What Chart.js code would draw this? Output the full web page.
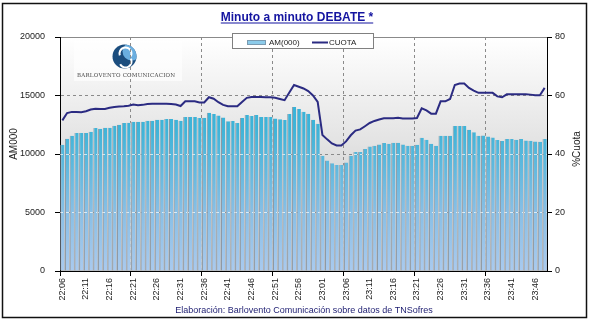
<!DOCTYPE html>
<html>
<head>
<meta charset="utf-8">
<script src="https://cdn.jsdelivr.net/npm/chart.js@4.4.0/dist/chart.umd.min.js"></script>
<style>
  body { margin: 0; background: #fff; }
  canvas { display: block; }
</style>
</head>
<body>
<canvas id="minuto" width="592" height="323"></canvas>
<script>
const minutos = [
  '22:06','22:07','22:08','22:09','22:10','22:11','22:12','22:13','22:14','22:15',
  '22:16','22:17','22:18','22:19','22:20','22:21','22:22','22:23','22:24','22:25',
  '22:26','22:27','22:28','22:29','22:30','22:31','22:32','22:33','22:34','22:35',
  '22:36','22:37','22:38','22:39','22:40','22:41','22:42','22:43','22:44','22:45',
  '22:46','22:47','22:48','22:49','22:50','22:51','22:52','22:53','22:54','22:55',
  '22:56','22:57','22:58','22:59','23:00','23:01','23:02','23:03','23:04','23:05',
  '23:06','23:07','23:08','23:09','23:10','23:11','23:12','23:13','23:14','23:15',
  '23:16','23:17','23:18','23:19','23:20','23:21','23:22','23:23','23:24','23:25',
  '23:26','23:27','23:28','23:29','23:30','23:31','23:32','23:33','23:34','23:35',
  '23:36','23:37','23:38','23:39','23:40','23:41','23:42','23:43','23:44','23:45',
  '23:46','23:47','23:48'
];

// audiencia media en miles
const audiencia = [
  10800, 11300, 11550, 11800, 11800, 11800, 11900, 12220, 12160, 12250,
  12250, 12420, 12500, 12650, 12680, 12760, 12760, 12760, 12850, 12850,
  12930, 12930, 13000, 13000, 12930, 12850, 13160, 13160, 13160, 13080,
  13100, 13530, 13420, 13300, 13130, 12790, 12820, 12650, 13080, 13340,
  13250, 13340, 13160, 13160, 13160, 13040, 12960, 12900, 13420, 14020,
  13850, 13620, 13450, 12930, 12590, 9850, 9450, 9220, 9050, 9050,
  9280, 9850, 10170, 10170, 10420, 10650, 10710, 10820, 10950, 10880,
  10960, 10960, 10820, 10710, 10710, 10790, 11390, 11220, 10880, 10710,
  11560, 11560, 11560, 12390, 12390, 12390, 12080, 11850, 11560, 11590,
  11500, 11420, 11190, 11110, 11280, 11280, 11220, 11280, 11160, 11130,
  11070, 11050, 11280
];

// cuota de pantalla (%)
const cuota = [
  51.5, 54.0, 54.4, 54.4, 54.3, 54.6, 55.2, 55.5, 55.4, 55.4,
  55.8, 56.1, 56.2, 56.3, 56.5, 56.9, 56.7, 56.8, 57.1, 57.2,
  57.2, 57.2, 57.2, 57.1, 56.9, 56.4, 58.0, 58.0, 58.0, 57.6,
  57.6, 59.4, 58.9, 57.7, 56.8, 56.3, 56.3, 56.3, 57.8, 59.2,
  59.5, 59.5, 59.5, 59.4, 59.4, 59.2, 58.8, 58.4, 61.0, 63.6,
  63.0, 62.4, 61.5, 60.0, 57.8, 46.5, 45.0, 43.6, 42.9, 42.9,
  44.3, 46.4, 48.0, 48.4, 49.5, 50.6, 51.3, 51.8, 52.2, 52.2,
  52.2, 52.4, 52.1, 52.1, 52.1, 52.3, 55.6, 54.9, 53.8, 53.8,
  58.0, 58.0, 58.8, 63.6, 64.1, 64.1, 62.6, 61.7, 60.9, 60.9,
  60.9, 60.9, 59.7, 59.4, 60.4, 60.4, 60.4, 60.4, 60.4, 60.3,
  60.1, 60.1, 62.6
];

const FONT = '"Liberation Sans", Arial, sans-serif';
const GRIS = '#8a8a8a';

let barGradient = null;
function barFill(c) {
  const a = c.chart.chartArea;
  if (!a) return '#5ab8dc';
  if (!barGradient) {
    barGradient = c.chart.ctx.createLinearGradient(0, a.top, 0, a.bottom);
    barGradient.addColorStop(0, '#22b0dc');
    barGradient.addColorStop(0.4, '#40b4d8');
    barGradient.addColorStop(0.75, '#88bfe6');
    barGradient.addColorStop(1, '#a9caef');
  }
  return barGradient;
}

function align(p) { return Math.round(p - 0.5) + 0.5; }

function drawLogo(ctx) {
  const cx = 124.5, cy = 56.5, r = 12;
  ctx.fillStyle = 'rgba(255,255,255,0.6)';
  ctx.fillRect(74, 41, 108, 40);

  ctx.save();
  ctx.beginPath();
  ctx.arc(cx, cy, r, 0, Math.PI * 2);
  ctx.fillStyle = '#1b4d7e';
  ctx.fill();
  ctx.clip();
  ctx.beginPath();
  ctx.arc(cx + 7, cy - 5, 9, 0, Math.PI * 2);
  ctx.fillStyle = '#6aaee0';
  ctx.fill();
  ctx.strokeStyle = '#fff';
  ctx.lineWidth = 2;
  ctx.beginPath();
  ctx.arc(cx + 1, cy - 3, 6, Math.PI * 0.9, Math.PI * 2.15);
  ctx.stroke();
  ctx.beginPath();
  ctx.arc(cx + 1, cy + 5, 6, -Math.PI * 0.15, Math.PI * 0.85);
  ctx.stroke();
  ctx.restore();

  // nombre espaciado de lado a lado
  const txt = 'BARLOVENTO COMUNICACION';
  ctx.font = '5.5px "DejaVu Serif", serif';
  ctx.fillStyle = '#4a4a4a';
  ctx.textBaseline = 'alphabetic';
  ctx.textAlign = 'left';
  const total = 98;
  const natural = ctx.measureText(txt).width;
  const gap = (total - natural) / (txt.length - 1);
  let x = 77;
  for (const ch of txt) {
    ctx.fillText(ch, x, 77);
    x += ctx.measureText(ch).width + gap;
  }
}

const fondo = {
  id: 'fondo',
  beforeDraw(chart) {
    const { ctx, chartArea: a } = chart;
    ctx.save();
    ctx.fillStyle = '#fff';
    ctx.fillRect(0, 0, chart.width, chart.height);
    const g = ctx.createLinearGradient(0, a.top, 0, a.bottom);
    g.addColorStop(0, '#ffffff');
    g.addColorStop(0.45, '#e3e3e3');
    g.addColorStop(1, '#b9b9b9');
    ctx.fillStyle = g;
    ctx.fillRect(a.left, a.top, a.right - a.left, a.bottom - a.top);
    drawLogo(ctx);
    ctx.restore();
  },
  // rejilla clara que se ve a traves de las barras
  afterDatasetDraw(chart, args) {
    if (args.meta.type !== 'bar') return;
    const { ctx, chartArea: a, scales } = chart;
    ctx.save();
    ctx.beginPath();
    args.meta.data.forEach(b => {
      const p = b.getProps(['x', 'y', 'base', 'width'], true);
      ctx.rect(p.x - p.width / 2, p.y, p.width, p.base - p.y);
    });
    ctx.clip();
    ctx.strokeStyle = 'rgba(255,255,255,0.7)';
    ctx.lineWidth = 1;
    ctx.setLineDash([3, 3]);
    ctx.beginPath();
    [5000, 10000, 15000].forEach(v => {
      const y = align(scales.y.getPixelForValue(v));
      ctx.moveTo(a.left, y);
      ctx.lineTo(a.right, y);
    });
    for (let i = 15; i < minutos.length; i += 15) {
      const x = align((scales.x.getPixelForValue(i - 1) + scales.x.getPixelForValue(i)) / 2);
      ctx.moveTo(x, a.top);
      ctx.lineTo(x, a.bottom);
    }
    ctx.stroke();
    ctx.restore();
  },
  afterDraw(chart) {
    const { ctx } = chart;
    ctx.save();

    // titulo
    ctx.font = 'bold 12px ' + FONT;
    ctx.fillStyle = '#1414a0';
    ctx.textAlign = 'center';
    ctx.textBaseline = 'alphabetic';
    const titulo = 'Minuto a minuto DEBATE *';
    ctx.fillText(titulo, 297, 21);
    const tw = ctx.measureText(titulo).width;
    ctx.fillRect(297 - tw / 2, 22.5, tw, 1);

    // leyenda
    ctx.fillStyle = '#fff';
    ctx.fillRect(232, 33, 142, 16);
    ctx.strokeStyle = '#808080';
    ctx.lineWidth = 1;
    ctx.strokeRect(232.5, 33.5, 141, 15);
    ctx.fillStyle = '#8ccbea';
    ctx.fillRect(247, 40, 19, 5);
    ctx.strokeStyle = '#7a9ab0';
    ctx.strokeRect(247.5, 40.5, 18, 4);
    ctx.strokeStyle = '#2b2b82';
    ctx.lineWidth = 2;
    ctx.beginPath();
    ctx.moveTo(312, 42.5);
    ctx.lineTo(328, 42.5);
    ctx.stroke();
    ctx.font = '8px ' + FONT;
    ctx.fillStyle = '#222';
    ctx.textAlign = 'left';
    ctx.fillText('AM(000)', 269, 45);
    ctx.fillText('CUOTA', 329, 45);

    // titulos de ejes
    ctx.font = '10px ' + FONT;
    ctx.fillStyle = '#222';
    ctx.textAlign = 'center';
    ctx.save();
    ctx.translate(17, 144);
    ctx.rotate(-Math.PI / 2);
    ctx.fillText('AM000', 0, 0);
    ctx.restore();
    ctx.save();
    ctx.translate(580, 149);
    ctx.rotate(-Math.PI / 2);
    ctx.fillText('%Cuota', 0, 0);
    ctx.restore();

    // fuente
    ctx.font = '9px ' + FONT;
    ctx.fillStyle = '#1c1c70';
    ctx.textAlign = 'center';
    ctx.fillText('Elaboración: Barlovento Comunicación sobre datos de TNSofres', 304, 313);

    // marco
    ctx.strokeStyle = '#111';
    ctx.lineWidth = 1.5;
    ctx.strokeRect(2.5, 3.5, 584, 314);
    ctx.restore();
  }
};

new Chart(document.getElementById('minuto'), {
  type: 'bar',
  data: {
    labels: minutos,
    datasets: [{
      type: 'line',
      label: 'CUOTA',
      data: cuota,
      yAxisID: 'yCuota',
      borderColor: '#2b2b82',
      borderWidth: 2,
      pointRadius: 0,
      tension: 0,
      order: 1
    }, {
      label: 'AM(000)',
      data: audiencia,
      yAxisID: 'y',
      backgroundColor: barFill,
      borderColor: '#8e99a4',
      borderWidth: { left: 1, right: 0, top: 0, bottom: 0 },
      barPercentage: 0.9,
      categoryPercentage: 1,
      order: 2
    }]
  },
  options: {
    responsive: false,
    animation: false,
    layout: { padding: { top: 37, left: 0, right: 0, bottom: 0 } },
    plugins: {
      legend: { display: false },
      tooltip: { enabled: false }
    },
    scales: {
      x: {
        offset: true,
        grid: {
          offset: true,
          color: c => (c.index > 0 && c.index % 15 === 0) ? GRIS : 'rgba(0,0,0,0)',
          tickColor: c => (c.index % 15 === 0) ? '#000' : 'rgba(0,0,0,0)',
          tickLength: 5
        },
        border: { color: '#000', width: 1, dash: [3, 3] },
        ticks: {
          autoSkip: false,
          minRotation: 90,
          maxRotation: 90,
          padding: 2,
          color: '#222',
          font: { size: 9, family: FONT },
          callback: (v, i) => (i % 5 === 0 ? minutos[i] : '')
        },
        afterFit: s => { s.height = 52; }
      },
      y: {
        position: 'left',
        min: 0,
        max: 20000,
        ticks: {
          stepSize: 5000, padding: 10, color: '#222', font: { size: 9, family: FONT },
          callback: v => String(v)
        },
        grid: {
          color: c => c.index === 0 ? 'rgba(0,0,0,0)' : GRIS,
          tickColor: '#000',
          tickLength: 5
        },
        border: { color: '#000', width: 1, dash: c => c.index === 4 ? [] : [3, 3] },
        afterFit: s => { s.width = 60; }
      },
      yCuota: {
        position: 'right',
        min: 0,
        max: 80,
        ticks: { stepSize: 20, padding: 3, color: '#222', font: { size: 9, family: FONT } },
        grid: { drawOnChartArea: false, tickColor: '#000', tickLength: 5 },
        border: { color: '#000', width: 1 },
        afterFit: s => { s.width = 45; }
      }
    }
  },
  plugins: [fondo]
});
</script>
</body>
</html>
